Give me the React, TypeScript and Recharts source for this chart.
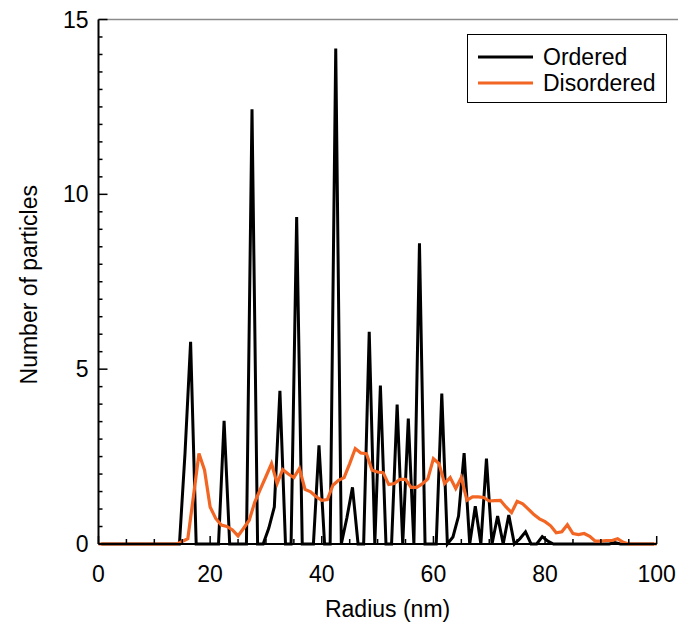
import {
  LineChart,
  Line,
  XAxis,
  YAxis,
  Label,
  Legend,
  ReferenceLine,
} from "recharts";

// ordered sample: one value per nm, starting at 0.5 nm
const ORDERED_START = 0.5;
const ORDERED = [
  0, 0, 0, 0, 0, 0, 0, 0, 0, 0,
  0, 0, 0, 0, 0, 2.6, 5.78, 0, 0, 0,
  0, 0, 3.52, 0, 0, 0, 0, 12.43, 0, 0,
  0.45, 1.06, 4.38, 0, 0, 9.35, 0, 0, 0, 2.82,
  0, 0, 14.17, 0, 0.75, 1.62, 0, 0, 6.07, 0,
  4.53, 0, 0, 3.99, 0, 3.59, 0, 8.6, 0, 0,
  0, 4.3, 0, 0.2, 0.8, 2.6, 0, 1.08, 0, 2.44,
  0, 0.8, 0, 0.83, 0, 0.15, 0.35, 0, 0, 0.21,
  0.08, 0, 0, 0, 0, 0, 0, 0, 0, 0,
  0, 0, 0.04, 0, 0, 0, 0, 0, 0, 0,
];

// disordered sample: one value per nm, starting at 0 nm
const DISORDERED_START = 0;
const DISORDERED = [
  0, 0, 0, 0, 0, 0, 0, 0, 0, 0,
  0, 0, 0, 0, 0, 0.07, 0.15, 1.35, 2.59, 2.11,
  1.06, 0.73, 0.54, 0.5, 0.4, 0.23, 0.45, 0.68, 1.2, 1.57,
  1.93, 2.3, 1.73, 2.13, 2.0, 1.9, 2.16, 1.56, 1.49, 1.35,
  1.25, 1.27, 1.68, 1.82, 1.9, 2.3, 2.73, 2.6, 2.58, 2.11,
  2.06, 2.04, 1.7, 1.73, 1.85, 1.85, 1.62, 1.62, 1.72, 1.86,
  2.44, 2.3, 1.73, 1.9, 1.59, 1.9, 1.25, 1.35, 1.35, 1.33,
  1.23, 1.24, 1.25, 1.06, 0.9, 1.22, 1.15, 1.0, 0.84, 0.72,
  0.64, 0.52, 0.32, 0.35, 0.55, 0.3, 0.27, 0.3, 0.22, 0.08,
  0.08, 0.1, 0.1, 0.15, 0.05, 0, 0, 0, 0, 0,
  0,
];

const SERIES_NAMES = ["Ordered", "Disordered"];

const X_TICKS = [0, 5, 10, 15, 20, 25, 30, 35, 40, 45, 50, 55, 60, 65, 70, 75, 80, 85, 90, 95, 100];
const Y_TICKS = [
  0, 0.5, 1, 1.5, 2, 2.5, 3, 3.5, 4, 4.5, 5, 5.5, 6, 6.5, 7, 7.5,
  8, 8.5, 9, 9.5, 10, 10.5, 11, 11.5, 12, 12.5, 13, 13.5, 14, 14.5, 15,
];
const X_LABEL_EVERY = 20;
const Y_LABEL_EVERY = 5;

const FONT = "'Liberation Sans', Arial, Helvetica, sans-serif";
const FONT_SIZE = 23;
const ORANGE = "#f26522";

const orderedData = ORDERED.map((count, i) => ({ radius: ORDERED_START + i, count }));
const disorderedData = DISORDERED.map((count, i) => ({ radius: DISORDERED_START + i, count }));

function XTick(props: any) {
  const { x, y, payload } = props;
  const major = payload.value % X_LABEL_EVERY === 0;
  return (
    <g>
      <line x1={x} x2={x} y1={y} y2={y - (major ? 8 : 5)} stroke="#000" strokeWidth={1.5} />
      {major && (
        <text x={x} y={y + 38} textAnchor="middle" fontSize={FONT_SIZE} fontFamily={FONT} fill="#000">
          {payload.value}
        </text>
      )}
    </g>
  );
}

function YTick(props: any) {
  const { x, y, payload } = props;
  const major = payload.value % Y_LABEL_EVERY === 0;
  return (
    <g>
      <line x1={x} x2={x + (major ? 9 : 4)} y1={y} y2={y} stroke="#000" strokeWidth={1.5} />
      {major && (
        <text x={x - 10} y={y + 8} textAnchor="end" fontSize={FONT_SIZE} fontFamily={FONT} fill="#000">
          {payload.value}
        </text>
      )}
    </g>
  );
}

function LegendBox(props: any) {
  const { payload = [] } = props;
  const items = [...payload].sort(
    (a: any, b: any) => SERIES_NAMES.indexOf(a.value) - SERIES_NAMES.indexOf(b.value)
  );
  return (
    <div
      style={{
        border: "1px solid #000",
        background: "#fff",
        boxSizing: "border-box",
        width: 200,
        height: 69,
        paddingTop: 9,
        paddingLeft: 10,
        fontFamily: FONT,
        fontSize: FONT_SIZE,
        color: "#000",
      }}
    >
      {items.map((entry: any) => (
        <div key={entry.value} style={{ display: "flex", alignItems: "center", height: 26 }}>
          <svg width={55} height={26} style={{ display: "block" }}>
            <line x1={0} x2={55} y1={13} y2={13} stroke={entry.color} strokeWidth={3} />
          </svg>
          <span style={{ marginLeft: 10, lineHeight: "26px" }}>{entry.value}</span>
        </div>
      ))}
    </div>
  );
}

export default function App() {
  return (
    <div style={{ position: "absolute", left: 0, top: 0, background: "#fff" }}>
      <LineChart width={678} height={631} margin={{ top: 19.5, right: 21.3, bottom: 0, left: 0 }}>
        <XAxis
          type="number"
          dataKey="radius"
          domain={[0, 100]}
          ticks={X_TICKS}
          interval={0}
          height={87}
          tickLine={false}
          tickSize={0}
          tickMargin={0}
          axisLine={{ stroke: "#000", strokeWidth: 2 }}
          tick={<XTick />}
        >
          <Label
            value="Radius (nm)"
            position="insideBottom"
            offset={14}
            dx={10}
            fill="#000"
            fontSize={FONT_SIZE}
            fontFamily={FONT}
          />
        </XAxis>
        <YAxis
          type="number"
          domain={[0, 15]}
          ticks={Y_TICKS}
          interval={0}
          width={98.5}
          tickLine={false}
          tickSize={0}
          tickMargin={0}
          axisLine={{ stroke: "#000", strokeWidth: 2 }}
          tick={<YTick />}
        >
          <Label
            value="Number of particles"
            angle={-90}
            position="insideLeft"
            offset={29}
            dy={3}
            fill="#000"
            fontSize={FONT_SIZE}
            fontFamily={FONT}
            style={{ textAnchor: "middle" }}
          />
        </YAxis>
        <ReferenceLine
          segment={[{ x: 0, y: 15 }, { x: 104, y: 15 }]}
          stroke="#8a8a8a"
          strokeWidth={1.5}
          ifOverflow="visible"
        />
        <Line
          name="Ordered"
          data={orderedData}
          dataKey="count"
          type="linear"
          stroke="#000"
          strokeWidth={3}
          dot={false}
          isAnimationActive={false}
        />
        <Line
          name="Disordered"
          data={disorderedData}
          dataKey="count"
          type="linear"
          stroke={ORANGE}
          strokeWidth={3.2}
          dot={false}
          isAnimationActive={false}
        />
        <Legend
          layout="vertical"
          align="center"
          verticalAlign="middle"
          content={<LegendBox />}
          wrapperStyle={{ left: 467, top: 34, width: 200, height: 69 }}
        />
      </LineChart>
    </div>
  );
}
